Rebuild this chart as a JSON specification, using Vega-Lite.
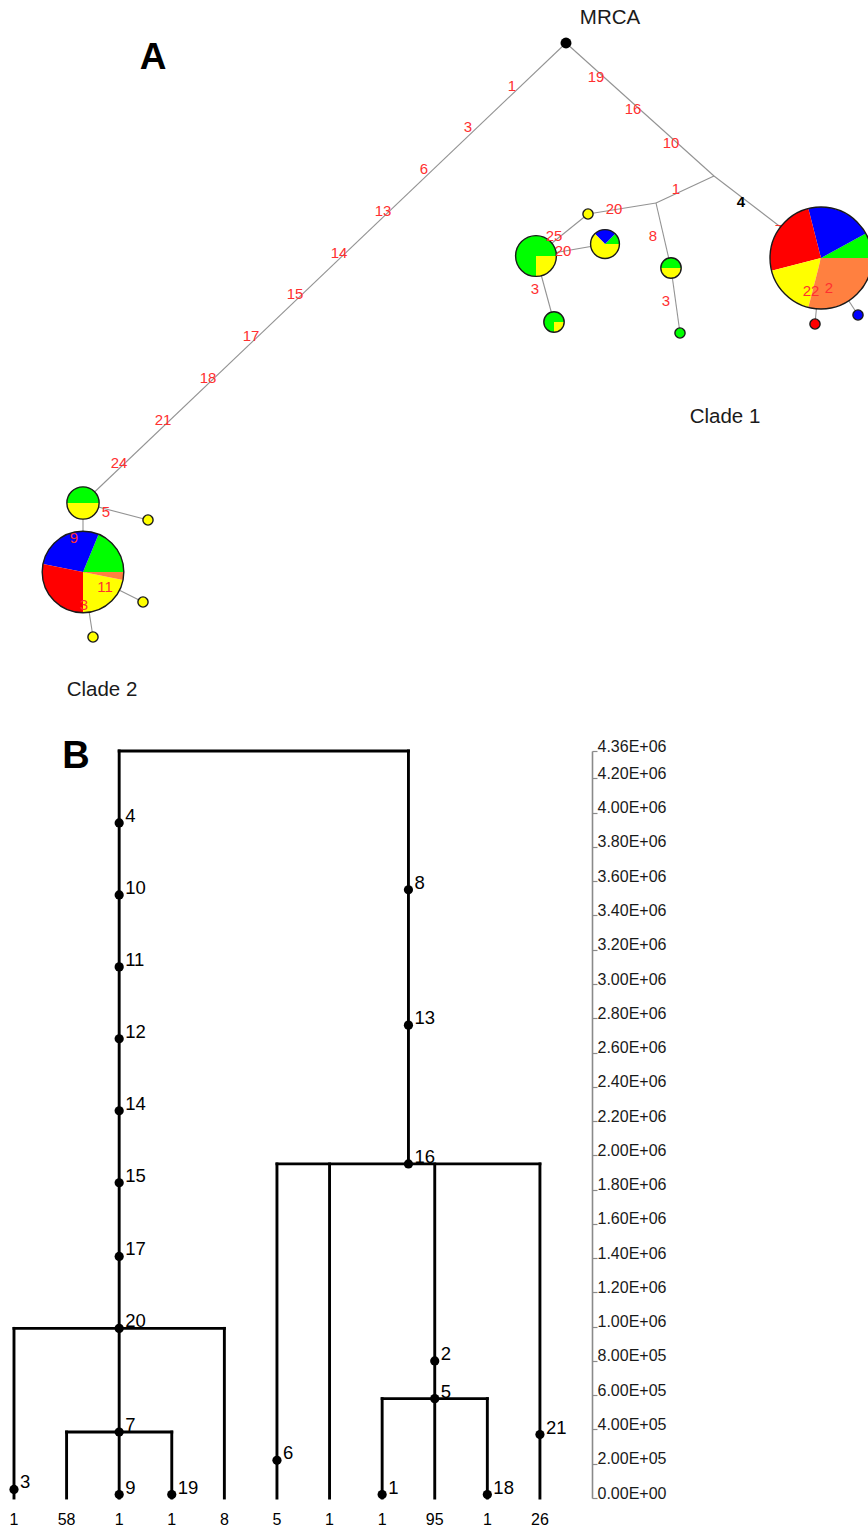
{
  "$schema": "https://vega.github.io/schema/vega-lite/v6.json",
  "padding": 0,
  "autosize": {"type": "pad"},
  "background": "white",
  "spacing": 51,
  "bounds": "flush",
  "config": {
    "view": {"stroke": null},
    "font": "Liberation Sans",
    "axis": {"labelOverlap": false, "labelFlush": false, "labelBound": false, "grid": false},
    "axisRight": {
      "domainColor": "#8a8a8a", "domainWidth": 1.6,
      "tickColor": "#8a8a8a", "tickSize": 5, "tickWidth": 1.2,
      "labelPadding": 0, "labelBaseline": "alphabetic", "labelAlign": "left",
      "labelFont": "Liberation Sans", "labelFontSize": 16, "labelColor": "#1a1a1a",
      "labelOverlap": false, "labelSeparation": 0
    }
  },
  "datasets": {
    "nodes": [
      {"id": "MRCA", "x": 0, "y": 0},
      {"id": "J1", "x": 14.8, "y": -13.3},
      {"id": "J2", "x": 9.0, "y": -16.0},
      {"id": "big1", "x": 25.5, "y": -21.5},
      {"id": "y1", "x": 2.2, "y": -17.1},
      {"id": "gy2", "x": 10.5, "y": -22.5},
      {"id": "g1", "x": 11.4, "y": -29.0},
      {"id": "gy16", "x": -3.0, "y": -21.3},
      {"id": "byg", "x": 3.9, "y": -20.1},
      {"id": "gy4", "x": -1.2, "y": -27.9},
      {"id": "r1", "x": 24.9, "y": -28.1},
      {"id": "b1", "x": 29.2, "y": -27.2},
      {"id": "c2gy", "x": -48.3, "y": -46.0},
      {"id": "c2y1", "x": -41.8, "y": -47.7},
      {"id": "c2big", "x": -48.3, "y": -52.9},
      {"id": "c2y2", "x": -42.3, "y": -55.9},
      {"id": "c2y3", "x": -47.3, "y": -59.4}
    ],
    "edges": [
      {"from": "MRCA", "to": "c2gy"},
      {"from": "MRCA", "to": "J1"},
      {"from": "J1", "to": "big1"},
      {"from": "J1", "to": "J2"},
      {"from": "J2", "to": "y1"},
      {"from": "J2", "to": "gy2"},
      {"from": "gy2", "to": "g1"},
      {"from": "y1", "to": "gy16"},
      {"from": "gy16", "to": "byg"},
      {"from": "gy16", "to": "gy4"},
      {"from": "big1", "to": "r1"},
      {"from": "big1", "to": "b1"},
      {"from": "c2gy", "to": "c2y1"},
      {"from": "c2gy", "to": "c2big"},
      {"from": "c2big", "to": "c2y2"},
      {"from": "c2big", "to": "c2y3"}
    ],
    "slices": [
      {"hap": "big1", "pop": "Pop A", "k": 8},
      {"hap": "big1", "pop": "Pop B", "k": 21},
      {"hap": "big1", "pop": "Pop C", "k": 25},
      {"hap": "big1", "pop": "Pop D", "k": 17},
      {"hap": "big1", "pop": "Pop E", "k": 29},
      {"hap": "c2big", "pop": "Pop A", "k": 12},
      {"hap": "c2big", "pop": "Pop B", "k": 18},
      {"hap": "c2big", "pop": "Pop C", "k": 18},
      {"hap": "c2big", "pop": "Pop D", "k": 14},
      {"hap": "c2big", "pop": "Pop E", "k": 2},
      {"hap": "gy16", "pop": "Pop A", "k": 12},
      {"hap": "gy16", "pop": "Pop D", "k": 4},
      {"hap": "byg", "pop": "Pop A", "k": 1},
      {"hap": "byg", "pop": "Pop B", "k": 2},
      {"hap": "byg", "pop": "Pop D", "k": 5},
      {"hap": "gy2", "pop": "Pop A", "k": 2},
      {"hap": "gy2", "pop": "Pop D", "k": 2},
      {"hap": "gy4", "pop": "Pop A", "k": 3},
      {"hap": "gy4", "pop": "Pop D", "k": 1},
      {"hap": "c2gy", "pop": "Pop A", "k": 5},
      {"hap": "c2gy", "pop": "Pop D", "k": 5},
      {"hap": "y1", "pop": "Pop D", "k": 1},
      {"hap": "g1", "pop": "Pop A", "k": 1},
      {"hap": "r1", "pop": "Pop C", "k": 1},
      {"hap": "b1", "pop": "Pop B", "k": 1},
      {"hap": "c2y1", "pop": "Pop D", "k": 1},
      {"hap": "c2y2", "pop": "Pop D", "k": 1},
      {"hap": "c2y3", "pop": "Pop D", "k": 1}
    ],
    "muts": [
      {"t": "1", "x": -5.4, "y": -4.3, "kind": "mut"},
      {"t": "3", "x": -9.8, "y": -8.4, "kind": "mut"},
      {"t": "6", "x": -14.2, "y": -12.6, "kind": "mut"},
      {"t": "13", "x": -18.3, "y": -16.8, "kind": "mut"},
      {"t": "14", "x": -22.7, "y": -21.0, "kind": "mut"},
      {"t": "15", "x": -27.1, "y": -25.1, "kind": "mut"},
      {"t": "17", "x": -31.5, "y": -29.3, "kind": "mut"},
      {"t": "18", "x": -35.8, "y": -33.5, "kind": "mut"},
      {"t": "21", "x": -40.3, "y": -37.7, "kind": "mut"},
      {"t": "24", "x": -44.7, "y": -42.0, "kind": "mut"},
      {"t": "19", "x": 3.0, "y": -3.4, "kind": "mut"},
      {"t": "16", "x": 6.7, "y": -6.6, "kind": "mut"},
      {"t": "10", "x": 10.5, "y": -10.0, "kind": "mut"},
      {"t": "1", "x": 11.0, "y": -14.6, "kind": "mut"},
      {"t": "4", "x": 17.5, "y": -15.9, "kind": "highlighted"},
      {"t": "7", "x": 21.3, "y": -18.7, "kind": "hidden"},
      {"t": "20", "x": 4.8, "y": -16.6, "kind": "mut"},
      {"t": "8", "x": 8.7, "y": -19.3, "kind": "mut"},
      {"t": "3", "x": 10.0, "y": -25.8, "kind": "mut"},
      {"t": "25", "x": -1.2, "y": -19.3, "kind": "mut"},
      {"t": "20", "x": -0.3, "y": -20.8, "kind": "mut"},
      {"t": "3", "x": -3.1, "y": -24.6, "kind": "mut"},
      {"t": "22", "x": 24.5, "y": -24.8, "kind": "mut"},
      {"t": "2", "x": 26.3, "y": -24.5, "kind": "mut"},
      {"t": "5", "x": -46.0, "y": -46.9, "kind": "mut"},
      {"t": "9", "x": -49.2, "y": -49.5, "kind": "mut"},
      {"t": "11", "x": -46.1, "y": -54.4, "kind": "mut"},
      {"t": "3", "x": -48.2, "y": -56.2, "kind": "mut"}
    ],
    "notes": [
      {"t": "A", "x": -41.3, "y": -1.5, "kind": "panel"},
      {"t": "MRCA", "x": 4.4, "y": 2.5, "kind": "caption"},
      {"t": "Clade 1", "x": 15.9, "y": -37.4, "kind": "caption"},
      {"t": "Clade 2", "x": -46.4, "y": -64.7, "kind": "caption"}
    ],
    "segs": [
      {"xi": 3, "h": 4360000, "xi2": 3, "h2": 0},
      {"xi": 8.5, "h": 4360000, "xi2": 8.5, "h2": 1950000},
      {"xi": 1, "h": 990000, "xi2": 1, "h2": 0},
      {"xi": 5, "h": 990000, "xi2": 5, "h2": 0},
      {"xi": 2, "h": 385000, "xi2": 2, "h2": 0},
      {"xi": 4, "h": 385000, "xi2": 4, "h2": 0},
      {"xi": 6, "h": 1950000, "xi2": 6, "h2": 0},
      {"xi": 7, "h": 1950000, "xi2": 7, "h2": 0},
      {"xi": 9, "h": 1950000, "xi2": 9, "h2": 0},
      {"xi": 11, "h": 1950000, "xi2": 11, "h2": 0},
      {"xi": 8, "h": 580000, "xi2": 8, "h2": 0},
      {"xi": 10, "h": 580000, "xi2": 10, "h2": 0},
      {"xi": 3, "h": 4360000, "xi2": 8.5, "h2": 4360000},
      {"xi": 1, "h": 990000, "xi2": 5, "h2": 990000},
      {"xi": 2, "h": 385000, "xi2": 4, "h2": 385000},
      {"xi": 6, "h": 1950000, "xi2": 11, "h2": 1950000},
      {"xi": 8, "h": 580000, "xi2": 10, "h2": 580000}
    ],
    "tnodes": [
      {"id": "4", "xi": 3, "h": 3940000},
      {"id": "10", "xi": 3, "h": 3520000},
      {"id": "11", "xi": 3, "h": 3100000},
      {"id": "12", "xi": 3, "h": 2680000},
      {"id": "14", "xi": 3, "h": 2260000},
      {"id": "15", "xi": 3, "h": 1840000},
      {"id": "17", "xi": 3, "h": 1410000},
      {"id": "20", "xi": 3, "h": 990000},
      {"id": "7", "xi": 3, "h": 385000},
      {"id": "3", "xi": 1, "h": 50000},
      {"id": "9", "xi": 3, "h": 20000},
      {"id": "19", "xi": 4, "h": 20000},
      {"id": "8", "xi": 8.5, "h": 3550000},
      {"id": "13", "xi": 8.5, "h": 2760000},
      {"id": "16", "xi": 8.5, "h": 1950000},
      {"id": "6", "xi": 6, "h": 220000},
      {"id": "2", "xi": 9, "h": 800000},
      {"id": "5", "xi": 9, "h": 580000},
      {"id": "1", "xi": 8, "h": 20000},
      {"id": "18", "xi": 10, "h": 20000},
      {"id": "21", "xi": 11, "h": 370000}
    ],
    "leaves": [
      {"xi": 1, "h": 0, "n": 1}, {"xi": 2, "h": 0, "n": 58}, {"xi": 3, "h": 0, "n": 1}, {"xi": 4, "h": 0, "n": 1},
      {"xi": 5, "h": 0, "n": 8}, {"xi": 6, "h": 0, "n": 5}, {"xi": 7, "h": 0, "n": 1}, {"xi": 8, "h": 0, "n": 1},
      {"xi": 9, "h": 0, "n": 95}, {"xi": 10, "h": 0, "n": 1}, {"xi": 11, "h": 0, "n": 26}
    ]
  },
  "vconcat": [
    {
      "width": 868,
      "height": 700,
      "layer": [
        {
          "data": {"name": "edges"},
          "transform": [
            {"lookup": "from", "from": {"data": {"name": "nodes"}, "key": "id", "fields": ["x", "y"]}, "as": ["xa", "ya"]},
            {"lookup": "to", "from": {"data": {"name": "nodes"}, "key": "id", "fields": ["x", "y"]}, "as": ["xb", "yb"]}
          ],
          "mark": {"type": "rule", "color": "#939393", "strokeWidth": 1.1},
          "encoding": {
            "x": {"field": "xa", "type": "quantitative", "scale": {"domain": [-56.6, 30.2], "nice": false, "zero": false}, "axis": null},
            "y": {"field": "ya", "type": "quantitative", "scale": {"domain": [-65.7, 4.3], "nice": false, "zero": false}, "axis": null},
            "x2": {"field": "xb"},
            "y2": {"field": "yb"}
          }
        },
        {
          "data": {"name": "muts"},
          "transform": [{"filter": "datum.kind === 'hidden'"}],
          "mark": {"type": "text", "color": "#ff3030", "fontSize": 15, "align": "center", "baseline": "middle"},
          "encoding": {
            "x": {"field": "x", "type": "quantitative", "axis": null},
            "y": {"field": "y", "type": "quantitative", "axis": null},
            "text": {"field": "t"}
          }
        },
        {
          "data": {"name": "slices"},
          "transform": [
            {"lookup": "hap", "from": {"data": {"name": "nodes"}, "key": "id", "fields": ["x", "y"]}},
            {"joinaggregate": [{"op": "sum", "field": "k", "as": "n"}], "groupby": ["hap"]},
            {"stack": "k", "groupby": ["hap"], "sort": [{"field": "pop", "order": "ascending"}], "offset": "normalize", "as": ["t0", "t1"]}
          ],
          "mark": {"type": "arc", "clip": true},
          "encoding": {
            "x": {"field": "x", "type": "quantitative", "axis": null},
            "y": {"field": "y", "type": "quantitative", "axis": null},
            "theta": {"field": "t0", "type": "quantitative", "scale": {"domain": [0, 1], "range": [1.5708, -4.7124]}},
            "theta2": {"field": "t1"},
            "radius": {"field": "n", "type": "quantitative", "scale": {"type": "sqrt", "domain": [0, 100], "range": [0, 51]}},
            "color": {"field": "pop", "type": "nominal", "scale": {"domain": ["Pop A", "Pop B", "Pop C", "Pop D", "Pop E"], "range": ["#00ff00", "#0000ff", "#ff0000", "#ffff00", "#ff8040"]}, "legend": null}
          }
        },
        {
          "data": {"name": "slices"},
          "transform": [
            {"aggregate": [{"op": "sum", "field": "k", "as": "n"}], "groupby": ["hap"]},
            {"lookup": "hap", "from": {"data": {"name": "nodes"}, "key": "id", "fields": ["x", "y"]}}
          ],
          "mark": {"type": "point", "shape": "circle", "filled": false, "stroke": "#1a1a1a", "strokeWidth": 1.4, "opacity": 1, "clip": true},
          "encoding": {
            "x": {"field": "x", "type": "quantitative", "axis": null},
            "y": {"field": "y", "type": "quantitative", "axis": null},
            "size": {"field": "n", "type": "quantitative", "scale": {"type": "linear", "domain": [0, 100], "range": [0, 10404]}, "legend": null}
          }
        },
        {
          "data": {"name": "nodes"},
          "transform": [{"filter": "datum.id === 'MRCA'"}],
          "mark": {"type": "point", "shape": "circle", "filled": true, "color": "#000000", "size": 120, "opacity": 1},
          "encoding": {
            "x": {"field": "x", "type": "quantitative", "axis": null},
            "y": {"field": "y", "type": "quantitative", "axis": null}
          }
        },
        {
          "data": {"name": "muts"},
          "transform": [{"filter": "datum.kind === 'mut'"}],
          "mark": {"type": "text", "color": "#ff3030", "fontSize": 15, "align": "center", "baseline": "middle"},
          "encoding": {
            "x": {"field": "x", "type": "quantitative", "axis": null},
            "y": {"field": "y", "type": "quantitative", "axis": null},
            "text": {"field": "t"}
          }
        },
        {
          "data": {"name": "muts"},
          "transform": [{"filter": "datum.kind === 'highlighted'"}],
          "mark": {"type": "text", "color": "#000000", "fontSize": 15, "fontWeight": "bold", "align": "center", "baseline": "middle"},
          "encoding": {
            "x": {"field": "x", "type": "quantitative", "axis": null},
            "y": {"field": "y", "type": "quantitative", "axis": null},
            "text": {"field": "t"}
          }
        },
        {
          "data": {"name": "notes"},
          "transform": [{"filter": "datum.kind === 'caption'"}],
          "mark": {"type": "text", "color": "#1a1a1a", "fontSize": 20.5, "align": "center", "baseline": "middle"},
          "encoding": {
            "x": {"field": "x", "type": "quantitative", "axis": null},
            "y": {"field": "y", "type": "quantitative", "axis": null},
            "text": {"field": "t"}
          }
        },
        {
          "data": {"name": "notes"},
          "transform": [{"filter": "datum.kind === 'panel'"}],
          "mark": {"type": "text", "color": "#000000", "fontSize": 37, "fontWeight": "bold", "align": "center", "baseline": "middle"},
          "encoding": {
            "x": {"field": "x", "type": "quantitative", "axis": null},
            "y": {"field": "y", "type": "quantitative", "axis": null},
            "text": {"field": "t"}
          }
        }
      ]
    },
    {
      "width": 592,
      "height": 747,
      "encoding": {
        "x": {"field": "xi", "type": "quantitative", "scale": {"domain": [0.734, 11.99], "nice": false, "zero": false}, "axis": null},
        "y": {
          "field": "h", "type": "quantitative",
          "scale": {"domain": [0, 4360000], "nice": false, "zero": true},
          "axis": {
            "orient": "right", "title": null,
            "values": [0, 200000, 400000, 600000, 800000, 1000000, 1200000, 1400000, 1600000, 1800000, 2000000, 2200000, 2400000, 2600000, 2800000, 3000000, 3200000, 3400000, 3600000, 3800000, 4000000, 4200000, 4360000],
            "labelExpr": "replace(upper(format(datum.value, '.2e')), 'E+', 'E+0')",
            "labelOverlap": false
          }
        }
      },
      "layer": [
        {
          "data": {"name": "segs"},
          "mark": {"type": "rule", "color": "#000000", "strokeWidth": 2.9, "strokeCap": "square"},
          "encoding": {
            "x2": {"field": "xi2"},
            "y2": {"field": "h2"}
          }
        },
        {
          "data": {"name": "tnodes"},
          "mark": {"type": "point", "shape": "circle", "filled": true, "color": "#000000", "size": 85, "opacity": 1}
        },
        {
          "data": {"name": "tnodes"},
          "mark": {"type": "text", "color": "#000000", "fontSize": 18.5, "align": "left", "baseline": "alphabetic", "dx": 6, "dy": -1},
          "encoding": {"text": {"field": "id"}}
        },
        {
          "data": {"name": "leaves"},
          "mark": {"type": "text", "color": "#000000", "fontSize": 16, "align": "center", "baseline": "middle", "dy": 22},
          "encoding": {"text": {"field": "n"}}
        },
        {
          "data": {"values": [{"t": "B", "xi": 2.18, "h": 4323000}]},
          "mark": {"type": "text", "color": "#000000", "fontSize": 38, "fontWeight": "bold", "align": "center", "baseline": "middle"},
          "encoding": {"text": {"field": "t"}}
        }
      ]
    }
  ],
  "resolve": {"scale": {"x": "independent", "y": "independent", "color": "independent", "size": "independent"}}
}
